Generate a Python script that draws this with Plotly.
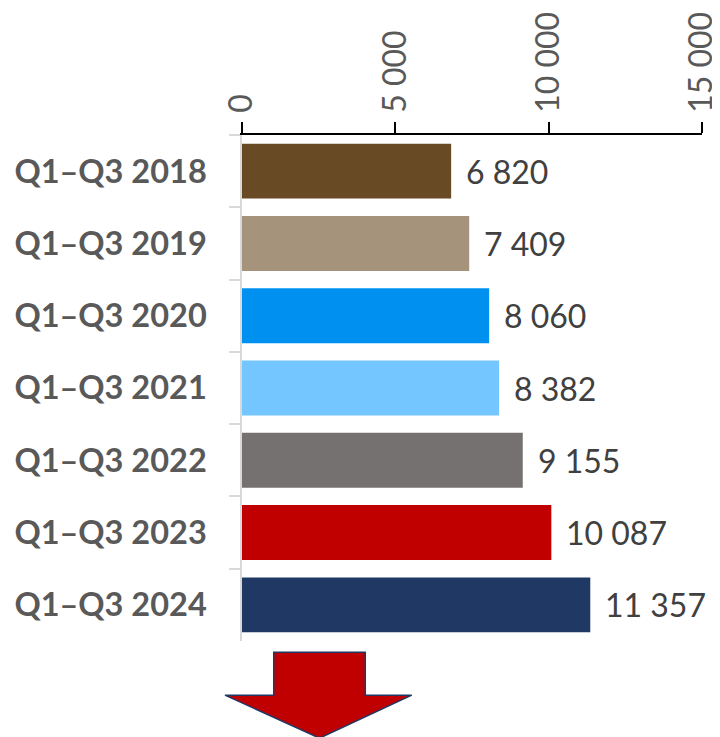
import plotly.graph_objects as go

periods = ["Q1–Q3 2018", "Q1–Q3 2019", "Q1–Q3 2020", "Q1–Q3 2021",
           "Q1–Q3 2022", "Q1–Q3 2023", "Q1–Q3 2024"]
values = [6820, 7409, 8060, 8382, 9155, 10087, 11357]
bar_colors = ["#684B24", "#A6937C", "#0091F0", "#73C6FF",
              "#767171", "#C00000", "#1F3864"]
x_ticks = [0, 5000, 10000, 15000]
x_ticklabels = ["0", "5 000", "10 000", "15 000"]

FONT = "Lato, 'Open Sans', sans-serif"

fig = go.Figure()
fig.add_trace(go.Bar(
    x=values,
    y=periods,
    orientation="h",
    marker=dict(color=bar_colors, line=dict(width=0)),
    hoverinfo="x+y",
))

# value labels next to the bars
for p, v in zip(periods, values):
    fig.add_annotation(
        x=v, y=p, text=f"{v:,}".replace(",", " "),
        xanchor="left", yanchor="middle", xshift=13, yshift=0,
        showarrow=False,
        font=dict(family=FONT, size=32, color="#404040"),
    )

# red down arrow below the chart
fig.add_shape(
    type="path", xref="paper", yref="paper",
    path="M 0.069 -0.022 L 0.268 -0.022 L 0.268 -0.107 L 0.369 -0.107 "
         "L 0.1685 -0.192 L -0.037 -0.107 L 0.069 -0.107 Z",
    fillcolor="#C00000", line=dict(color="#1F3864", width=1.5),
)

fig.update_xaxes(
    side="top", range=[0, 15000],
    tickvals=x_ticks, ticktext=x_ticklabels, tickangle=-90,
    showline=True, linecolor="#000000", linewidth=1.5,
    ticks="outside", ticklen=11, tickwidth=1.5, tickcolor="#000000",
    ticklabelstandoff=3, ticklabeloverflow="allow", automargin=False,
    tickfont=dict(family=FONT, size=32, color="#595959"),
    showgrid=False, zeroline=False, fixedrange=True,
)
fig.update_yaxes(
    autorange="reversed", categoryorder="array", categoryarray=periods,
    showline=True, linecolor="#D9D9D9", linewidth=1.5,
    ticks="outside", ticklen=11, tickcolor="#D9D9D9", tickwidth=1.5,
    tickson="boundaries", ticklabelstandoff=27, automargin=False,
    tickfont=dict(family=FONT, size=32.5, color="#595959", weight="bold"),
    showgrid=False, zeroline=False, fixedrange=True,
)

fig.update_layout(
    width=712, height=729,
    margin=dict(l=234, r=18, t=127, b=96),
    bargap=0.24,
    plot_bgcolor="#FFFFFF", paper_bgcolor="#FFFFFF",
    showlegend=False,
)

fig.write_html("out.html")
